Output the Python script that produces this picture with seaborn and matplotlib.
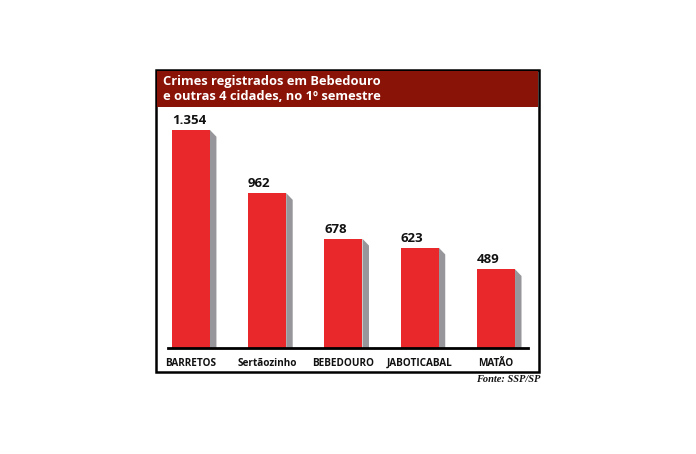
import matplotlib
matplotlib.use("Agg")
import matplotlib.pyplot as plt
import seaborn as sns
import pandas as pd
from matplotlib.patches import Rectangle

cidades = ["BARRETOS", "Sertãozinho", "BEBEDOURO", "JABOTICABAL", "MATÃO"]
crimes = [1354, 962, 678, 623, 489]
rotulos = ["1.354", "962", "678", "623", "489"]

titulo = "Crimes registrados em Bebedouro\ne outras 4 cidades, no 1º semestre"
fonte = "Fonte: SSP/SP"

RED = "#e8282a"
SHADOW = "#97979b"
TITLE_BG = "#8a1307"

sns.set_theme(style="white")
plt.rcParams["font.family"] = ["Open Sans", "DejaVu Sans"]

W, H = 696, 454
fig = plt.figure(figsize=(W / 100, H / 100), dpi=100)


def fx(px):
    return px / W


def fy(py):
    return 1 - py / H


# frame and title band
fig.patches.append(Rectangle((fx(156), fy(372)), fx(539) - fx(156), fy(70) - fy(372),
                             transform=fig.transFigure, fill=False, ec="black", lw=1.8))
fig.patches.append(Rectangle((fx(157), fy(107)), fx(538) - fx(157), fy(71) - fy(107),
                             transform=fig.transFigure, fc=TITLE_BG, ec="none"))
fig.text(fx(163), fy(89), titulo, color="white", fontsize=9.3, fontweight="bold",
         va="center", ha="left", linespacing=1.2)

ax = fig.add_axes([fx(168), fy(348), fx(528) - fx(168), fy(110) - fy(348)])
df = pd.DataFrame({"cidade": cidades, "crimes": crimes})
sns.barplot(data=df, x="cidade", y="crimes", color=RED, saturation=1, width=0.5, ax=ax)

ax.set_xlim(-0.30, 4.42)
ax.set_ylim(0, 1478)

# grey side shadow giving the 3D look
dx, dy = 0.085, 42
for p in list(ax.patches):
    x0 = p.get_x() + p.get_width()
    h = p.get_height()
    ax.fill([x0, x0 + dx, x0 + dx, x0], [h, h - dy, 0, 0], color=SHADOW, lw=0, zorder=1)
    p.set_zorder(2)
    p.set_edgecolor("none")

for p, lab in zip(ax.patches, rotulos):
    ax.text(p.get_x(), p.get_height() + 18, lab, ha="left", va="bottom",
            fontsize=9.5, fontweight="bold", color="#111111")

for s in ["top", "right", "left"]:
    ax.spines[s].set_visible(False)
ax.spines["bottom"].set_color("black")
ax.spines["bottom"].set_linewidth(2)
ax.set_yticks([])
ax.set_xlabel("")
ax.set_ylabel("")
ax.tick_params(axis="x", length=0, pad=7)
for t in ax.get_xticklabels():
    t.set_fontweight("bold")
    t.set_fontsize(7.2)
    t.set_color("#111111")

fig.text(fx(540), fy(379), fonte, ha="right", va="center", fontsize=7.5,
         fontstyle="italic", fontweight="bold", family=["Liberation Serif"], color="#111111")

fig.savefig("out.png", dpi=100, facecolor="white")
